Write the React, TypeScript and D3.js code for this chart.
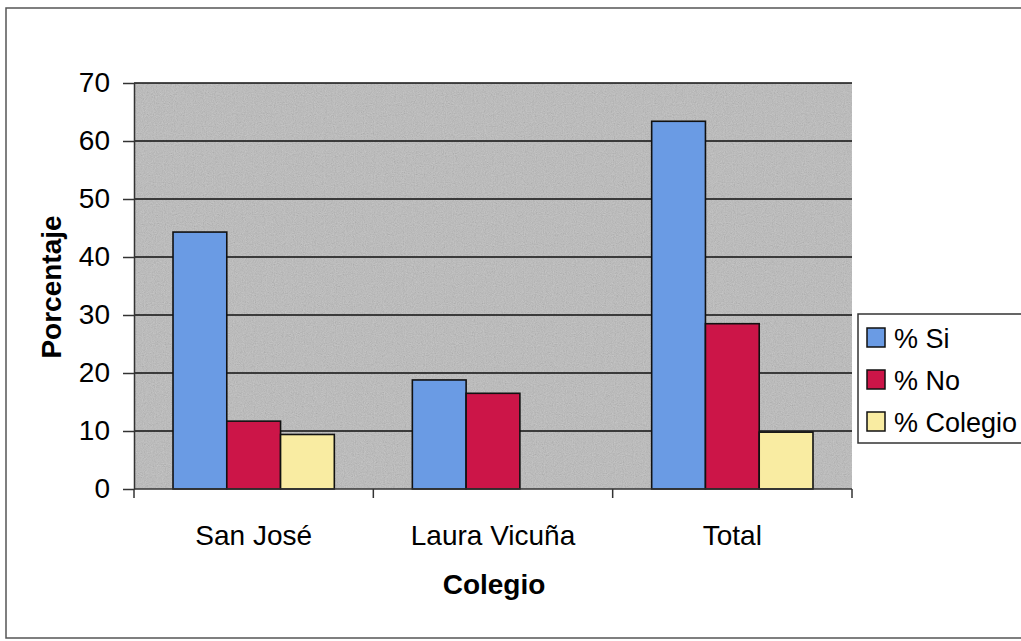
import React, { useRef, useEffect } from 'react';
import * as d3 from 'd3';

// data
const categories = ['San José', 'Laura Vicuña', 'Total'];
const seriesNames = ['% Si', '% No', '% Colegio'];
const pctSi = [44.3, 18.8, 63.4];
const pctNo = [11.7, 16.5, 28.5];
const pctColegio = [9.4, 0, 9.8];
const yTicks = [0, 10, 20, 30, 40, 50, 60, 70];

const seriesColors = ['#6a9be4', '#cc1548', '#f9eca2'];

function App() {
  const svgRef = useRef<SVGSVGElement>(null);

  useEffect(() => {
    const W = 1021;
    const H = 641;
    const plot = { left: 134, top: 83, right: 852, bottom: 489 };
    const font = "'Liberation Sans', Arial, sans-serif";

    const svg = d3.select(svgRef.current).attr('width', W).attr('height', H);
    svg.selectAll('*').remove();

    const values = [pctSi, pctNo, pctColegio];
    const rows = categories.map((c, i) => ({
      cat: c,
      vals: seriesNames.map((s, j) => ({ name: s, value: values[j][i], color: seriesColors[j] })),
    }));

    // texture filter to look like the scanned printout
    const defs = svg.append('defs');
    const f = defs.append('filter').attr('id', 'grain').attr('x', 0).attr('y', 0).attr('width', '100%').attr('height', '100%');
    f.append('feTurbulence').attr('type', 'fractalNoise').attr('baseFrequency', 0.9).attr('numOctaves', 2).attr('seed', 3);
    f.append('feColorMatrix').attr('type', 'matrix')
      .attr('values', '0.33 0.33 0.33 0 0  0.33 0.33 0.33 0 0  0.33 0.33 0.33 0 0  0 0 0 0 1');

    // outer frame
    svg.append('rect').attr('x', 0).attr('y', 0).attr('width', W).attr('height', H).attr('fill', '#fff');
    svg.append('rect').attr('x', 6).attr('y', 8).attr('width', W + 20).attr('height', 630)
      .attr('fill', 'none').attr('stroke', '#555').attr('stroke-width', 1.5);

    // scales
    const y = d3.scaleLinear().domain([0, 70]).range([plot.bottom, plot.top]);
    const x0 = d3.scaleBand().domain(categories).range([plot.left, plot.right]).padding(0);
    const bw = x0.bandwidth();
    const x1 = d3.scaleBand().domain(seriesNames).range([bw * 0.163, bw * 0.837]).padding(0);

    // plot background with grain
    svg.append('rect').attr('x', plot.left).attr('y', plot.top)
      .attr('width', plot.right - plot.left).attr('height', plot.bottom - plot.top)
      .attr('fill', '#bcbcbc');
    svg.append('rect').attr('x', plot.left).attr('y', plot.top)
      .attr('width', plot.right - plot.left).attr('height', plot.bottom - plot.top)
      .attr('filter', 'url(#grain)').attr('opacity', 0.3);

    // gridlines
    svg.append('g').selectAll('line').data(yTicks.filter((t) => t > 0)).join('line')
      .attr('x1', plot.left).attr('x2', plot.right)
      .attr('y1', (d) => y(d)).attr('y2', (d) => y(d))
      .attr('stroke', '#111').attr('stroke-width', 1.6);

    // bars
    const groups = svg.append('g').selectAll('g').data(rows).join('g')
      .attr('transform', (d) => `translate(${x0(d.cat)},0)`);
    groups.selectAll('rect').data((d) => d.vals.filter((v) => v.value > 0)).join('rect')
      .attr('x', (d) => x1(d.name)!)
      .attr('y', (d) => y(d.value))
      .attr('width', x1.bandwidth())
      .attr('height', (d) => y(0) - y(d.value))
      .attr('fill', (d) => d.color)
      .attr('stroke', '#111').attr('stroke-width', 1.6);

    // y axis
    const yAxis = svg.append('g').attr('transform', `translate(${plot.left},0)`)
      .call(d3.axisLeft(y).tickValues(yTicks).tickSize(11).tickSizeOuter(0).tickPadding(13));
    yAxis.select('.domain').attr('stroke', '#333').attr('stroke-width', 1.5);
    yAxis.selectAll('.tick line').attr('stroke', '#333').attr('stroke-width', 1.5);
    yAxis.selectAll('.tick text').attr('font-family', font).attr('font-size', 28).attr('fill', '#000');

    // x axis line + boundary ticks
    svg.append('line').attr('x1', plot.left).attr('x2', plot.right)
      .attr('y1', plot.bottom).attr('y2', plot.bottom).attr('stroke', '#333').attr('stroke-width', 1.5);
    const edges = [...categories.map((c) => x0(c)!), plot.right];
    svg.append('g').selectAll('line').data(edges).join('line')
      .attr('x1', (d) => d).attr('x2', (d) => d)
      .attr('y1', plot.bottom).attr('y2', plot.bottom + 9)
      .attr('stroke', '#333').attr('stroke-width', 1.5);

    svg.append('g').selectAll('text').data(categories).join('text')
      .attr('x', (d) => x0(d)! + bw / 2)
      .attr('y', 545)
      .attr('text-anchor', 'middle')
      .attr('font-family', font).attr('font-size', 28).attr('fill', '#000')
      .text((d) => d);

    // axis titles
    svg.append('text')
      .attr('x', 494).attr('y', 594)
      .attr('text-anchor', 'middle')
      .attr('font-family', font).attr('font-size', 28).attr('font-weight', 'bold').attr('fill', '#000')
      .text('Colegio');

    svg.append('text')
      .attr('transform', 'translate(61,287) rotate(-90)')
      .attr('text-anchor', 'middle')
      .attr('font-family', font).attr('font-size', 28).attr('font-weight', 'bold').attr('fill', '#000')
      .text('Porcentaje');

    // legend
    const lg = svg.append('g').attr('transform', 'translate(858,314)');
    lg.append('rect').attr('x', 0).attr('y', 0).attr('width', 200).attr('height', 129)
      .attr('fill', '#fff').attr('stroke', '#333').attr('stroke-width', 1.5);
    const items = lg.selectAll('g').data(seriesNames).join('g')
      .attr('transform', (d, i) => `translate(0,${24 + i * 42})`);
    items.append('rect').attr('x', 9).attr('y', -10).attr('width', 18).attr('height', 19)
      .attr('fill', (d, i) => seriesColors[i]).attr('stroke', '#111').attr('stroke-width', 1.5);
    items.append('text').attr('x', 36).attr('y', 10)
      .attr('font-family', font).attr('font-size', 27).attr('fill', '#000')
      .text((d) => d);
  }, []);

  return (
    <svg ref={svgRef} style={{ position: 'absolute', left: 0, top: 0, display: 'block' }}></svg>
  );
}

export default App;
